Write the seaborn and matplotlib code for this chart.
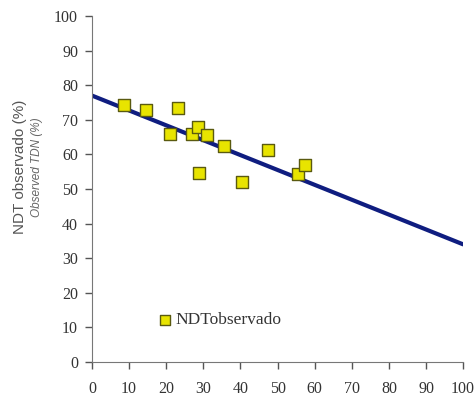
import numpy as np
import pandas as pd
import matplotlib.pyplot as plt
import seaborn as sns

# observed points
ndt_x = [8.5, 14.6, 23.3, 21.0, 26.9, 28.5, 30.9, 28.8, 35.6, 40.3, 47.3, 55.6, 57.4]
ndt_obs = [74.3, 72.8, 73.3, 65.9, 65.8, 68.0, 65.5, 54.7, 62.4, 52.1, 61.4, 54.3, 56.9]

# fitted line end points
line_x = [0, 100]
line_y = [77.0, 34.0]

x_ticks = list(range(0, 101, 10))
y_ticks = list(range(0, 101, 10))

df = pd.DataFrame({'x': ndt_x, 'y': ndt_obs})
df_line = pd.DataFrame({'x': line_x, 'y': line_y})

sns.set_style('ticks')
plt.rcParams['font.family'] = ['Liberation Serif', 'DejaVu Serif']

fig = plt.figure(figsize=(4.75, 3.98), dpi=100)
ax = fig.add_axes([0.1937, 0.0905, 0.7813, 0.8693])

sns.lineplot(data=df_line, x='x', y='y', ax=ax, color='#0f1d80', linewidth=3, zorder=2)
sns.scatterplot(data=df, x='x', y='y', ax=ax, marker='s', s=72, color='#e8e400',
                edgecolor='#5a5a10', linewidth=1, zorder=3)

ax.set_xlim(0, 100)
ax.set_ylim(0, 100)
ax.set_xticks(x_ticks)
ax.set_yticks(y_ticks)
ax.tick_params(axis='both', labelsize=11.5, colors='#555555', labelcolor='#333333', length=5, width=1)
ax.tick_params(axis='x', pad=9)
ax.tick_params(axis='y', pad=5)
sns.despine(ax=ax)
for s in ['left', 'bottom']:
    ax.spines[s].set_color('#777777')

ax.set_xlabel('')
ax.set_ylabel('')
fig.text(0.042, 0.58, 'NDT observado (%)', rotation=90, ha='center', va='center',
         family='Liberation Sans', fontsize=11, color='#555555')
fig.text(0.077, 0.58, 'Observed TDN (%)', rotation=90, ha='center', va='center',
         family='Liberation Sans', style='italic', fontsize=8.5, color='#666666')

# legend
ax.scatter([19.7], [12], marker='s', s=45, color='#e8e400', edgecolor='#5a5a10', linewidth=1)
ax.text(22.5, 12, 'NDTobservado', va='center', ha='left', fontsize=12.5, color='#333333')

plt.savefig('out.png', dpi=100)
